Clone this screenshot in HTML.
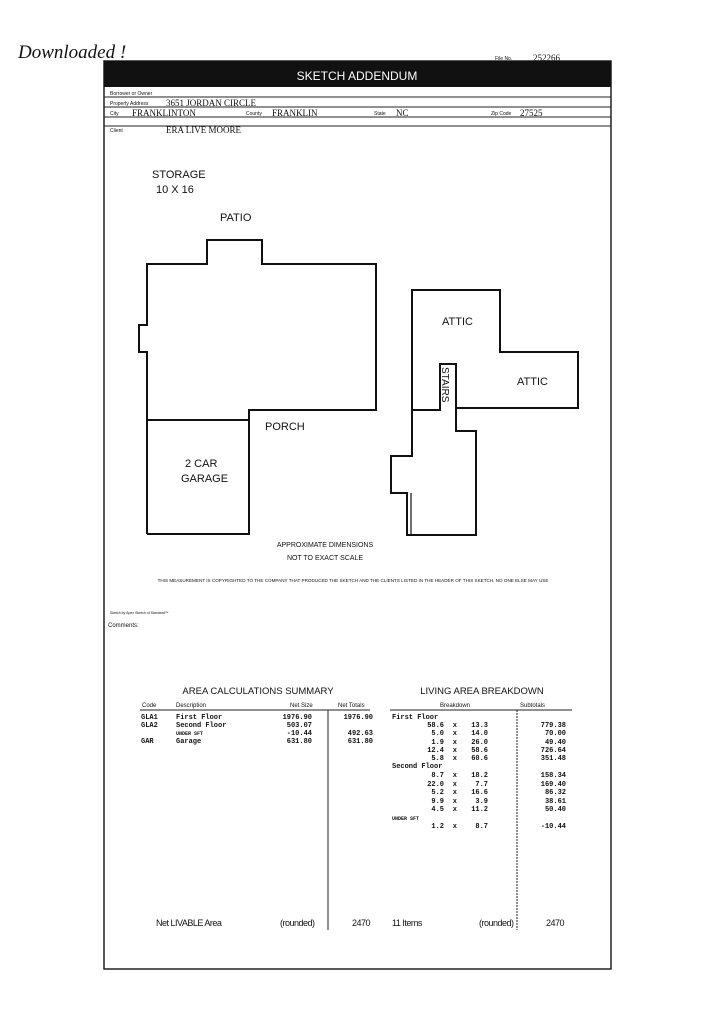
<!DOCTYPE html>
<html><head><meta charset="utf-8"><style>
html,body{margin:0;padding:0;background:#fff;}
svg{display:block;}
text{font-family:"Liberation Sans",sans-serif;fill:#111;}
.m text{font-family:"Liberation Mono",monospace;font-size:7px;font-weight:bold;}
.s{font-size:5px;}
text.v{font-family:"Liberation Serif",serif;font-size:9px;}
text.hw{font-family:"Liberation Serif",serif;font-style:italic;}
</style></head><body>
<svg width="724" height="1024" viewBox="0 0 724 1024" xmlns="http://www.w3.org/2000/svg">
<rect width="724" height="1024" fill="#fff"/>
<text x="18" y="58" class="hw" font-size="19">Downloaded !</text>
<text x="495" y="60" class="s">File No.</text>
<text x="533" y="61" class="v">252266</text>
<rect x="104" y="61" width="507" height="908" fill="none" stroke="#222" stroke-width="1.5"/>
<rect x="104" y="61" width="507" height="26" fill="#111"/>
<text x="357" y="80" text-anchor="middle" font-size="12" style="fill:#fff">SKETCH ADDENDUM</text>
<g stroke="#222" stroke-width="1">
<line x1="104" y1="97" x2="611" y2="97"/><line x1="104" y1="107" x2="611" y2="107"/>
<line x1="104" y1="117" x2="611" y2="117"/><line x1="104" y1="126" x2="611" y2="126"/>
</g>
<text x="110" y="95" class="s">Borrower or Owner</text>
<text x="110" y="105" class="s">Property Address</text><text x="166" y="106" class="v">3651 JORDAN CIRCLE</text>
<text x="110" y="115" class="s">City</text><text x="132" y="116" class="v">FRANKLINTON</text>
<text x="246" y="115" class="s">County</text><text x="272" y="116" class="v">FRANKLIN</text>
<text x="374" y="115" class="s">State</text><text x="396" y="116" class="v">NC</text>
<text x="491" y="115" class="s">Zip Code</text><text x="520" y="116" class="v">27525</text>
<text x="110" y="132" class="s">Client</text><text x="166" y="133" class="v">ERA LIVE MOORE</text>
<text x="152" y="178" font-size="11">STORAGE</text>
<text x="156" y="193" font-size="11">10 X 16</text>
<text x="220" y="221" font-size="11">PATIO</text>
<g fill="none" stroke="#111" stroke-width="2">
<polyline points="147,534 147,352 139,352 139,325 147,325 147,264 207,264 207,240 262,240 262,264 376,264 376,410 249,410 249,534 147,534"/>
<line x1="147" y1="420" x2="249" y2="420"/>
<polyline points="412,410 412,290 500,290 500,352 578,352 578,408 456,408"/>
<polyline points="412,410 440,410 440,364 456,364 456,431 476,431 476,535 407,535 407,493 391,493 391,456 412,456 412,410"/>
<line x1="411" y1="493" x2="411" y2="535" stroke-width="1.2"/>
</g>
<text x="265" y="430" font-size="11">PORCH</text>
<text x="185" y="467" font-size="11">2 CAR</text>
<text x="181" y="482" font-size="11">GARAGE</text>
<text x="442" y="325" font-size="11">ATTIC</text>
<text x="517" y="385" font-size="11">ATTIC</text>
<text x="442" y="367" font-size="10" transform="rotate(90 442 367)">STAIRS</text>
<text x="325" y="547" font-size="7" text-anchor="middle">APPROXIMATE DIMENSIONS</text>
<text x="325" y="560" font-size="7" text-anchor="middle">NOT TO EXACT SCALE</text>
<text x="353" y="582" font-size="4.6" text-anchor="middle">THIS MEASUREMENT IS COPYRIGHTED TO THE COMPANY THAT PRODUCED THE SKETCH AND THE CLIENTS LISTED IN THE HEADER OF THIS SKETCH. NO ONE ELSE MAY USE</text>
<text x="110" y="614" font-size="3.5">Sketch by Apex Sketch of Standard™</text>
<text x="108" y="627" font-size="6">Comments:</text>
<text x="258" y="694" font-size="9.5" text-anchor="middle">AREA CALCULATIONS SUMMARY</text>
<text x="482" y="694" font-size="9.5" text-anchor="middle">LIVING AREA BREAKDOWN</text>
<g font-size="6">
<text x="142" y="707">Code</text><text x="176" y="707">Description</text><text x="290" y="707">Net Size</text><text x="338" y="707">Net Totals</text>
<text x="440" y="707">Breakdown</text><text x="520" y="707">Subtotals</text>
</g>
<g stroke="#222" stroke-width="1">
<line x1="140" y1="710" x2="370" y2="710"/><line x1="390" y1="710" x2="572" y2="710"/>
<line x1="328" y1="710" x2="328" y2="930"/>
<line x1="517" y1="710" x2="517" y2="930" stroke-dasharray="2,1"/>
</g>
<g class="m">
<text x="141" y="719">GLA1</text><text x="176" y="719">First Floor</text><text x="312" y="719" text-anchor="end">1976.90</text><text x="373" y="719" text-anchor="end">1976.90</text>
<text x="141" y="727">GLA2</text><text x="176" y="727">Second Floor</text><text x="312" y="727" text-anchor="end">503.07</text>
<text x="176" y="735" style="font-size:5px">UNDER SFT</text><text x="312" y="735" text-anchor="end">-10.44</text><text x="373" y="735" text-anchor="end">492.63</text>
<text x="141" y="743">GAR</text><text x="176" y="743">Garage</text><text x="312" y="743" text-anchor="end">631.80</text><text x="373" y="743" text-anchor="end">631.80</text>
<text x="392" y="719">First Floor</text>
<text x="392" y="768">Second Floor</text>
<text x="392" y="820" style="font-size:5px">UNDER SFT</text>
</g>
<g class="m" text-anchor="end">
<text x="444" y="727">58.6</text><text x="457" y="727">x</text><text x="488" y="727">13.3</text><text x="566" y="727">779.38</text>
<text x="444" y="735">5.0</text><text x="457" y="735">x</text><text x="488" y="735">14.0</text><text x="566" y="735">70.00</text>
<text x="444" y="744">1.9</text><text x="457" y="744">x</text><text x="488" y="744">26.0</text><text x="566" y="744">49.40</text>
<text x="444" y="752">12.4</text><text x="457" y="752">x</text><text x="488" y="752">58.6</text><text x="566" y="752">726.64</text>
<text x="444" y="760">5.8</text><text x="457" y="760">x</text><text x="488" y="760">60.6</text><text x="566" y="760">351.48</text>
<text x="444" y="777">8.7</text><text x="457" y="777">x</text><text x="488" y="777">18.2</text><text x="566" y="777">158.34</text>
<text x="444" y="786">22.0</text><text x="457" y="786">x</text><text x="488" y="786">7.7</text><text x="566" y="786">169.40</text>
<text x="444" y="794">5.2</text><text x="457" y="794">x</text><text x="488" y="794">16.6</text><text x="566" y="794">86.32</text>
<text x="444" y="803">9.9</text><text x="457" y="803">x</text><text x="488" y="803">3.9</text><text x="566" y="803">38.61</text>
<text x="444" y="811">4.5</text><text x="457" y="811">x</text><text x="488" y="811">11.2</text><text x="566" y="811">50.40</text>
<text x="444" y="828">1.2</text><text x="457" y="828">x</text><text x="488" y="828">8.7</text><text x="566" y="828">-10.44</text>
</g>
<g font-size="9" letter-spacing="-0.5">
<text x="156" y="926">Net LIVABLE Area</text><text x="280" y="926">(rounded)</text><text x="352" y="926">2470</text>
<text x="392" y="926">11 Items</text><text x="479" y="926">(rounded)</text><text x="546" y="926">2470</text>
</g>
</svg>
</body></html>
